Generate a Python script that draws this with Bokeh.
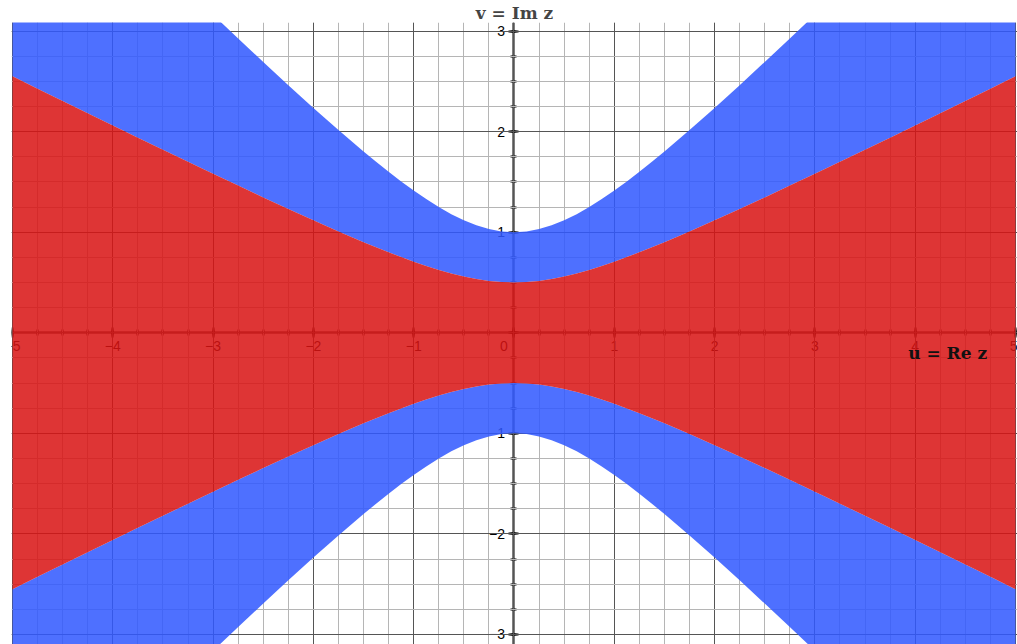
from bokeh.plotting import figure
from bokeh.models import SingleIntervalTicker, Label, Range1d
from bokeh.embed import file_html
from bokeh.resources import INLINE

# ---- data (upper half, mirrored) ----
u_half = [0.0, 0.125, 0.25, 0.375, 0.5, 0.625, 0.75, 0.875, 1.0, 1.125, 1.25,
          1.375, 1.5, 1.75, 2.0, 2.25, 2.5, 2.75, 3.0, 3.25, 3.5, 3.75, 4.0,
          4.25, 4.5, 4.75, 5.0]
# red region boundary |v| (inner band)
red_half = [0.500, 0.504, 0.515, 0.534, 0.559, 0.590, 0.625, 0.664, 0.707,
            0.753, 0.800, 0.850, 0.901, 1.008, 1.118, 1.231, 1.346, 1.463,
            1.581, 1.700, 1.820, 1.940, 2.062, 2.183, 2.305, 2.427, 2.550]
# blue region boundary |v| (outer band)
blue_half = [1.000, 1.008, 1.031, 1.068, 1.118, 1.179, 1.250, 1.329, 1.414,
             1.505, 1.601, 1.700, 1.803, 2.016, 2.236, 2.462, 2.693, 2.926,
             3.162, 3.400, 3.640, 3.881, 4.123, 4.366, 4.610, 4.854, 5.099]

x_ticks_interval = 1
minor_per_major = 4
title_text = "v = Im z"
u_label_text = "u = Re z"

u = [-a for a in reversed(u_half[1:])] + u_half
red = list(reversed(red_half[1:])) + red_half
blue = list(reversed(blue_half[1:])) + blue_half
neg_red = [-r for r in red]
neg_blue = [-b for b in blue]

RED = "#d91414"
BLUE = "#3158ff"
ALPHA = 0.86

p = figure(width=1017, height=644, output_backend="svg", toolbar_location=None,
           x_range=Range1d(-5.01, 5.02), y_range=Range1d(-3.10, 3.085),
           min_border_left=11, min_border_right=0, min_border_bottom=0,
           min_border_top=22, outline_line_color=None)

p.title.text = title_text
p.title.align = "center"
p.title.text_font = "DejaVu Serif"
p.title.text_font_style = "bold"
p.title.text_font_size = "17px"
p.title.standoff = 0
p.title.offset = 0

xt = SingleIntervalTicker(interval=x_ticks_interval, num_minor_ticks=minor_per_major)
yt = SingleIntervalTicker(interval=x_ticks_interval, num_minor_ticks=minor_per_major)

for ax, t in ((p.xaxis[0], xt), (p.yaxis[0], yt)):
    ax.fixed_location = 0
    ax.ticker = t
    ax.axis_line_width = 2
    ax.axis_line_color = "black"
    ax.major_tick_in = 5
    ax.major_tick_out = 5
    ax.minor_tick_in = 3
    ax.minor_tick_out = 3
    ax.major_tick_line_width = 2
    ax.minor_tick_line_width = 2
    ax.major_label_text_font = "Liberation Sans"
    ax.major_label_text_font_size = "14px"
    ax.major_label_text_color = "#000000"
    ax.major_label_overrides = {0: ""}
    ax.level = "underlay"

p.xaxis.major_label_standoff = 3
p.yaxis.major_label_standoff = 4

for g, t in ((p.xgrid[0], xt), (p.ygrid[0], yt)):
    g.ticker = t
    g.grid_line_color = "#555555"
    g.grid_line_width = 1
    g.minor_grid_line_color = "#b5b5b5"
    g.minor_grid_line_width = 1

zero = Label(x=0, y=0, text="0", x_offset=-10, y_offset=-8,
             text_align="center", text_baseline="top",
             text_font="Liberation Sans", text_font_size="14px",
             text_color="#000000", level="underlay")
p.add_layout(zero)

# blue outer bands
p.varea(x=u, y1=red, y2=blue, fill_color=BLUE, fill_alpha=ALPHA)
p.varea(x=u, y1=neg_blue, y2=neg_red, fill_color=BLUE, fill_alpha=ALPHA)
# red inner region
p.varea(x=u, y1=neg_red, y2=red, fill_color=RED, fill_alpha=ALPHA)

lab = Label(x=3.93, y=-0.2, text=u_label_text, text_align="left",
            text_baseline="middle", text_font="DejaVu Serif",
            text_font_style="bold", text_font_size="17px", text_color="#111111")
p.add_layout(lab)

open("out.html", "w").write(file_html(p, INLINE))
